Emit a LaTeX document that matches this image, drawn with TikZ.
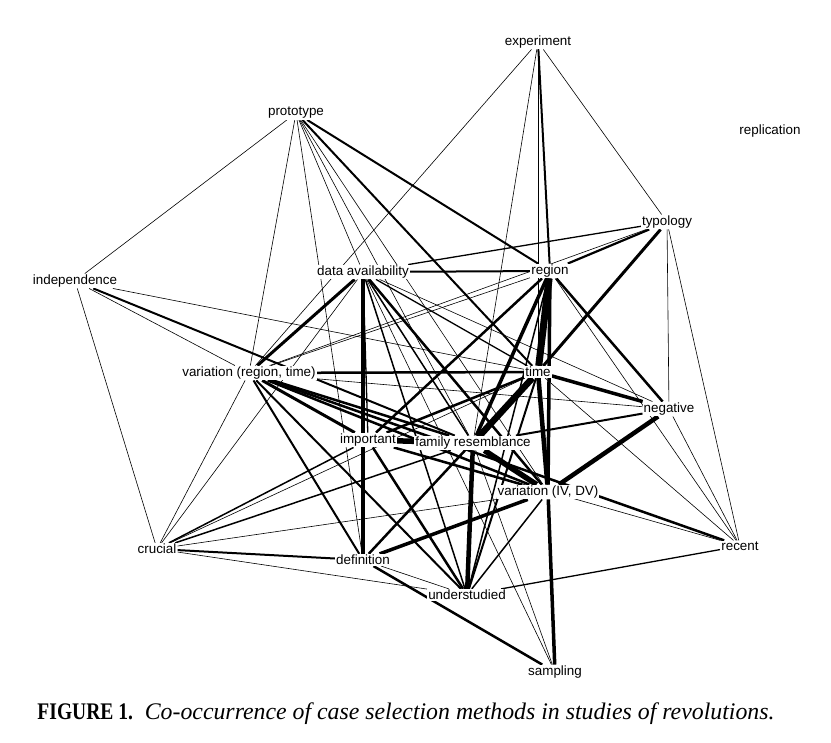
\documentclass[tikz,border=0pt]{standalone}
\usepackage{fontspec}
\setmainfont{Liberation Sans}
\newfontfamily\capfont{Liberation Serif}
\usepackage{graphicx}
\usetikzlibrary{backgrounds}
\tikzset{
  lbl/.style={fill=white, inner sep=1pt, font=\fontsize{13.4}{15}\selectfont},
  edge/.style={draw=black, line cap=butt}
}
\begin{document}
\begin{tikzpicture}[x=1pt,y=-1pt]
\useasboundingbox (0,0) rectangle (831,743);
% nodes
\node[lbl] (E)   at (538,42)  {experiment};
\node[lbl] (R)   at (770,131) {replication};
\node[lbl] (P)   at (296,113) {prototype};
\node[lbl] (T)   at (667,222) {typology};
\node[lbl] (I)   at (75,281)  {independence};
\node[lbl] (DA)  at (363,272) {data availability};
\node[lbl] (RG)  at (550,271) {region};
\node[lbl] (VRT) at (249,373) {variation (region, time)};
\node[lbl] (TM)  at (538,372) {time};
\node[lbl] (N)   at (669,409) {negative};
\node[lbl] (IM)  at (368,440) {important};
\node[lbl] (FR)  at (473,443) {family resemblance};
\node[lbl] (VIV) at (548,492) {variation (IV, DV)};
\node[lbl] (C)   at (157,549) {crucial};
\node[lbl] (D)   at (363,560) {definition};
\node[lbl] (RC)  at (740,546) {recent};
\node[lbl] (U)   at (467,595) {understudied};
\node[lbl] (S)   at (555,672) {sampling};
% caption
\node (cap) at (406,714) {\resizebox{737pt}{!}{\capfont\fontsize{20}{24}\selectfont\scalebox{0.82}[1]{\textbf{FIGURE 1.}}\ \ \textit{Co-occurrence of case selection methods in studies of revolutions.}}};
% edges
\begin{scope}[on background layer]
\fill[white] (0,0) rectangle (831,743);
\foreach \a/\b/\w in {
 E/VRT/0.6, E/FR/0.6, E/TM/0.6, E/RG/2.0, E/T/0.6,
 P/I/0.6, P/VRT/0.6, P/D/0.6, P/DA/0.6, P/FR/0.6, P/VIV/0.6, P/TM/2.0, P/RG/2.0,
 I/C/0.6, I/VRT/0.6, I/FR/2.0, I/TM/0.6,
 T/DA/1.3, T/RG/2.2, T/VRT/0.6, T/TM/3.0, T/N/0.6, T/RC/0.6,
 RG/VRT/0.6, RG/DA/2.0, RG/TM/7.0, RG/VIV/3.5, RG/FR/3.5, RG/IM/2.5, RG/N/2.5, RG/RC/0.6, RG/U/1.5,
 DA/VRT/3.0, DA/C/0.6, DA/D/3.5, DA/IM/1.3, DA/TM/1.3, DA/U/1.5, DA/FR/1.5, DA/VIV/2.5, DA/N/0.6, DA/S/0.6,
 VRT/TM/2.5, VRT/N/0.6, VRT/C/0.6, VRT/D/2.0, VRT/U/2.0, VRT/IM/3.0, VRT/FR/2.5, VRT/VIV/2.5, VRT/RC/2.5,
 TM/N/3.5, TM/RC/0.6, TM/VIV/4.5, TM/FR/6.5, TM/IM/2.5, TM/D/2.5, TM/C/0.6, TM/U/2.0,
 IM/FR/5.5, IM/VIV/2.5, IM/U/2.5, IM/RC/0.6, IM/C/1.5,
 FR/VIV/5.5, FR/U/4.5, FR/N/2.0, FR/S/0.6, FR/C/1.5,
 VIV/N/4.5, VIV/U/1.5, VIV/S/3.5, VIV/D/3.5, VIV/C/0.6,
 N/RC/0.6,
 D/C/2.0, D/U/0.6, D/S/2.5, C/U/0.6, U/RC/1.3}
 \draw[edge, line width=\w pt] (\a) -- (\b);
\end{scope}
\end{tikzpicture}
\end{document}
